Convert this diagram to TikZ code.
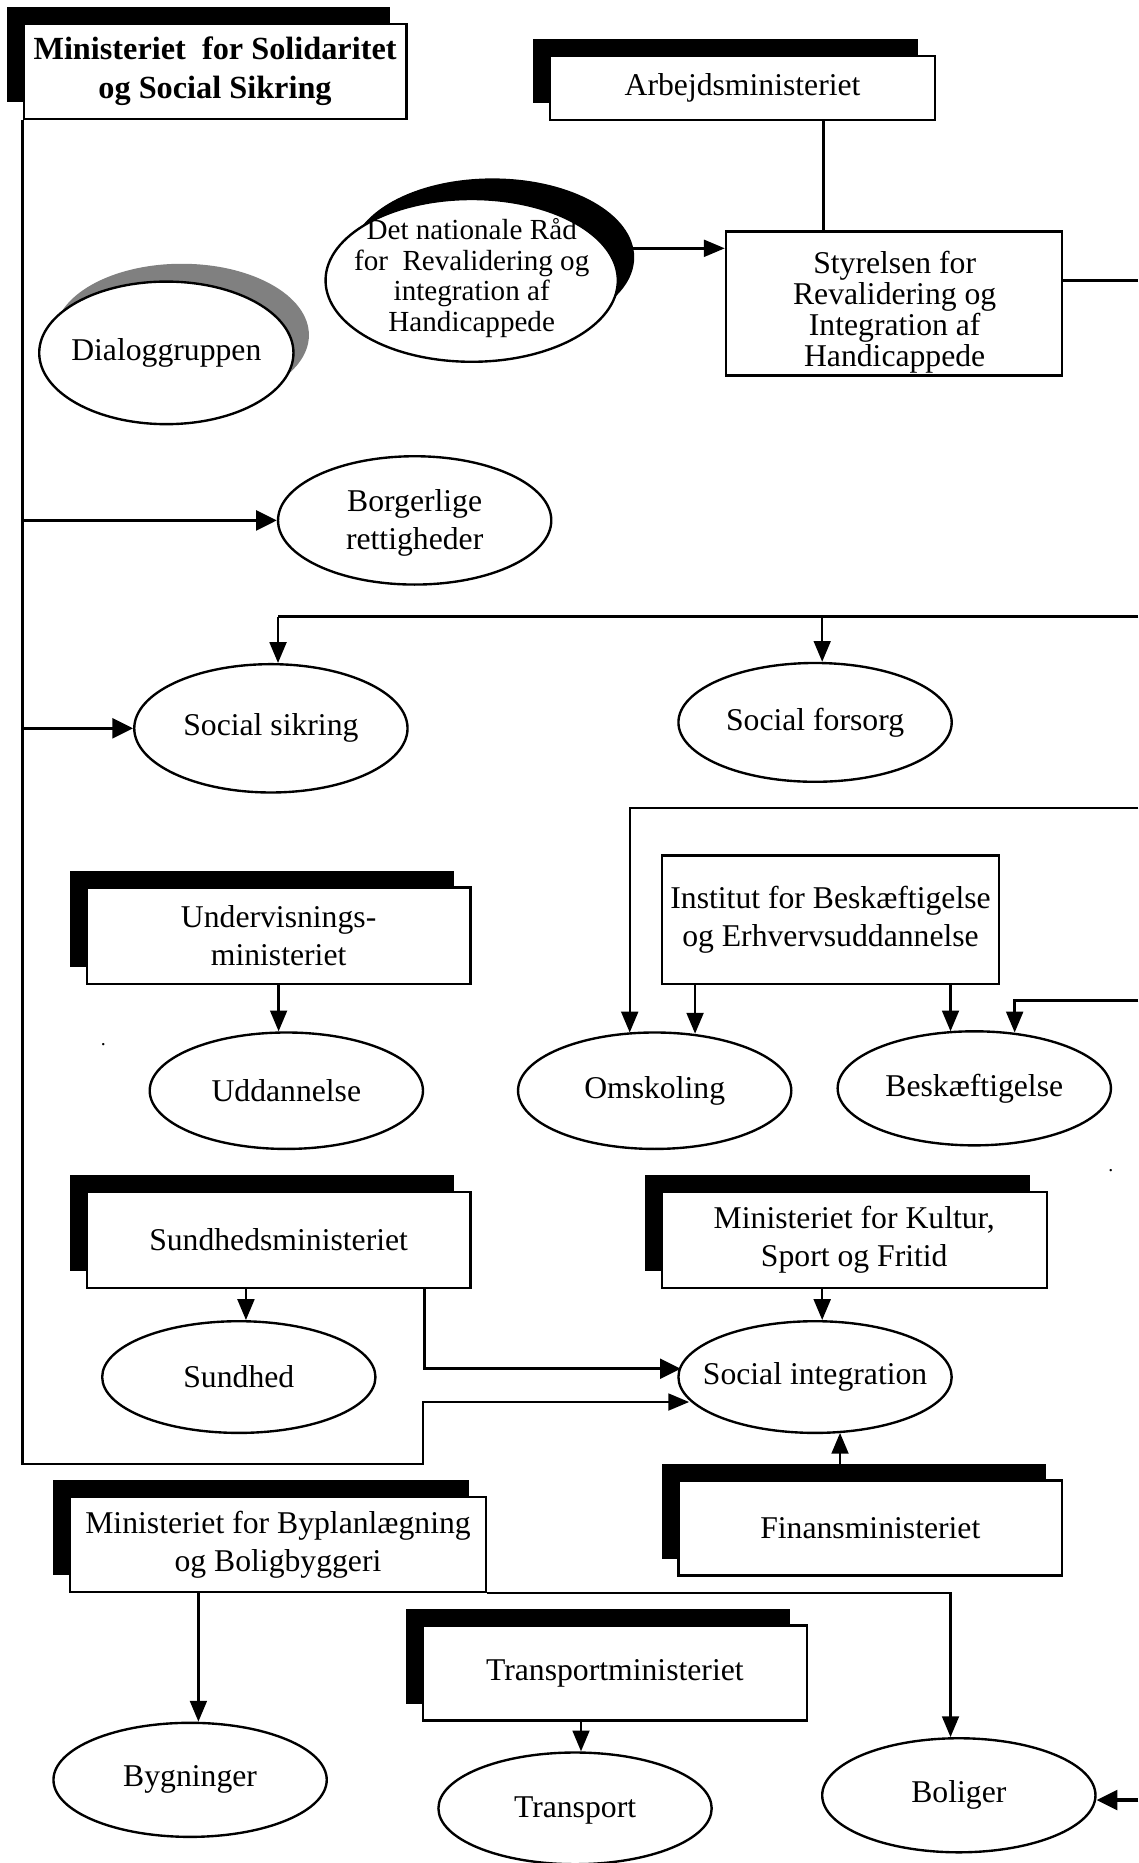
\documentclass[tikz,border=0pt]{standalone}
\usepackage{fontspec}
\setmainfont{Liberation Serif}
\usetikzlibrary{shapes.geometric,arrows.meta,shadows,calc}
\begin{document}
\begin{tikzpicture}[x=0.6pt,y=-0.6pt,
  txt/.style={font=\fontsize{16}{19.2}\selectfont, align=center, inner sep=0pt},
  box/.style={txt, rectangle, draw, line width=1.2pt, fill=white},
  mbox/.style={box, general shadow={fill=black, shadow xshift=-8.4pt, shadow yshift=8.4pt}},
  ell/.style={ellipse, draw, line width=1.2pt, fill=white, inner sep=0pt},
  ln/.style={line width=1.2pt},
  thk/.style={line width=1.7pt},
  arr/.style={ln, -{Triangle[length=10.5pt,width=8.5pt]}},
  tarr/.style={thk, -{Triangle[length=10.5pt,width=10pt]}}]
\fill[white] (0,0) rectangle (958,1568);
\useasboundingbox (0,0) rectangle (958,1568);

% boxes
\node[mbox, minimum width=193.2pt, minimum height=48pt,
      font=\bfseries\fontsize{16.3}{19.8}\selectfont] (sol) at (181,60)
      {Ministeriet \ for Solidaritet\\og Social Sikring};
\node[mbox, minimum width=194.4pt, minimum height=32.4pt] (arb) at (625,74) {Arbejdsministeriet};
\node[box, minimum width=169.8pt, minimum height=72.6pt] (sty) at (752.5,255.5) {};
\node[txt, font=\fontsize{16}{15.6}\selectfont] (sty-t) at (753,263)
      {Styrelsen for\\Revalidering og\\Integration af\\Handicappede};
\node[box, minimum width=170.4pt, minimum height=64.8pt] (ins) at (699,774)
      {Institut for Beskæftigelse\\og Erhvervsuddannelse};
\node[mbox, minimum width=193.8pt, minimum height=48.6pt] (und) at (234.5,787.5)
      {Undervisnings-\\ministeriet};
\node[mbox, minimum width=193.8pt, minimum height=48.6pt] (sun) at (234.5,1043.5)
      {Sundhedsministeriet};
\node[mbox, minimum width=194.4pt, minimum height=48.6pt] (kul) at (719,1043.5)
      {Ministeriet for Kultur,\\Sport og Fritid};
\node[mbox, minimum width=193.8pt, minimum height=48pt] (fin) at (732.5,1286)
      {Finansministeriet};
\node[mbox, minimum width=210pt, minimum height=48pt] (byp) at (234,1300)
      {Ministeriet for Byplanlægning\\og Boligbyggeri};
\node[mbox, minimum width=193.8pt, minimum height=48pt] (tra) at (517.5,1408)
      {Transportministeriet};

% ellipses
\node[ell, minimum width=147.6pt, minimum height=82.2pt,
      general shadow={fill=black, shadow scale=0.97, shadow xshift=10.8pt, shadow yshift=12pt}] (det) at (397,236) {};
\node[txt, font=\fontsize{14.7}{15.6}\selectfont] (det-t) at (397,234)
      {Det nationale Råd\\for \ Revalidering og\\integration af\\Handicappede};
\node[ell, minimum width=128.4pt, minimum height=72pt,
      general shadow={fill=black!50, shadow xshift=7.8pt, shadow yshift=9pt}] (dia) at (140,297) {};
\node[txt] (dia-t) at (140,297) {Dialoggruppen};
\node[ell, minimum width=138pt, minimum height=64.8pt] (bor) at (349,438) {};
\node[txt] (bor-t) at (349,440) {Borgerlige\\rettigheder};
\node[ell, minimum width=138pt, minimum height=64.8pt] (ss) at (228,613) {};
\node[txt] (ss-t) at (228,613) {Social sikring};
\node[ell, minimum width=138pt, minimum height=60pt] (sf) at (686,608) {};
\node[txt] (sf-t) at (686,608) {Social forsorg};
\node[ell, minimum width=138pt, minimum height=58.8pt] (udd) at (241,918) {};
\node[txt] (udd-t) at (241,918) {Uddannelse};
\node[ell, minimum width=138pt, minimum height=58.8pt] (om) at (551,918) {};
\node[txt] (om-t) at (551,918) {Omskoling};
\node[ell, minimum width=138pt, minimum height=57.6pt] (bs) at (820,916) {};
\node[txt] (bs-t) at (820,916) {Beskæftigelse};
\node[ell, minimum width=138pt, minimum height=56.4pt] (sund) at (201,1159) {};
\node[txt] (sund-t) at (201,1159) {Sundhed};
\node[ell, minimum width=138pt, minimum height=56.4pt] (si) at (686,1159) {};
\node[txt] (si-t) at (686,1159) {Social integration};
\node[ell, minimum width=138pt, minimum height=57.6pt] (byg) at (160,1498) {};
\node[txt] (byg-t) at (160,1498) {Bygninger};
\node[ell, minimum width=138pt, minimum height=56.4pt] (trn) at (484,1522) {};
\node[txt] (trn-t) at (484,1524) {Transport};
\node[ell, minimum width=138pt, minimum height=57.6pt] (bol) at (807,1511) {};
\node[txt] (bol-t) at (807,1511) {Boliger};

% stray dots
\node[txt, font=\fontsize{10}{12}\selectfont] (dot1) at (87,879) {.};
\node[txt, font=\fontsize{10}{12}\selectfont] (dot2) at (935,985) {.};

% connectors
\coordinate (c1) at (356,1232);
\coordinate (c2) at (356,1180);
\coordinate (sitip) at ($(si)+(-106,21)$);
\draw[arr] (sol.south west) -- (sol.south west |- c1) -- (c1) -- (c2) -- (sitip);
\draw[tarr] (sol.south west |- bor.west) -- (bor.west);
\draw[tarr] (sol.south west |- ss.west) -- (ss.west);

\coordinate (a1) at ($(arb.south)+(68,0)$);
\draw[ln] (a1) -- (a1 |- sty.north);

\coordinate (d1) at ($(det)+(133,-27)$);
\draw[arr] (d1) -- (d1 -| sty.west);

\coordinate (r1) at (958,236);
\draw[ln] (r1 -| sty.east) -- (r1);

\coordinate (r2) at (958,519);
\coordinate (t1) at ($(ss.north)+(6,0)$);
\coordinate (t2) at ($(sf.north)+(6,0)$);
\draw[thk] (r2) -- (t1 |- r2);
\draw[arr] (t1 |- r2) -- (t1);
\draw[arr] (t2 |- r2) -- (t2);

\coordinate (r3) at (958,680);
\coordinate (t3) at ($(om.north)+(-21,1)$);
\draw[arr] (r3) -- (t3 |- r3) -- (t3);
\coordinate (t4) at ($(om.north)+(34,2)$);
\draw[arr] (t4 |- ins.south) -- (t4);
\coordinate (t5) at ($(bs.north)+(-20,1)$);
\draw[arr] (t5 |- ins.south) -- (t5);
\coordinate (r4) at (958,842);
\coordinate (t6) at ($(bs.north)+(34,2)$);
\draw[arr] (r4) -- (t6 |- r4) -- (t6);

\draw[arr] (und.south) -- (und.south |- udd.north);

\coordinate (t7) at ($(sund.north)+(6,0)$);
\draw[arr] (t7 |- sun.south) -- (t7);

\coordinate (s1) at ($(sun.south east)+(-40,0)$);
\coordinate (t8) at ($(si)+(-113,-7)$);
\draw[tarr, line width=1.5pt] (s1) -- (s1 |- t8) -- (t8);

\coordinate (t9) at ($(si.north)+(6,0)$);
\draw[arr] (t9 |- kul.south) -- (t9);

\coordinate (t10) at ($(si.south)+(21,-1)$);
\draw[arr] (t10 |- fin.north) -- (t10);

\coordinate (t11) at ($(byg.north)+(7,0)$);
\draw[arr] (t11 |- byp.south) -- (t11);

\coordinate (t12) at ($(bol.north)+(-7,0)$);
\draw[arr] (byp.south east) -- (t12 |- byp.south east) -- (t12);

\coordinate (t13) at ($(trn.north)+(5,0)$);
\draw[arr] (t13 |- tra.south) -- (t13);

\coordinate (r5) at (958,1515);
\draw[tarr] (r5) -- (r5 -| bol.east);
\end{tikzpicture}
\end{document}
